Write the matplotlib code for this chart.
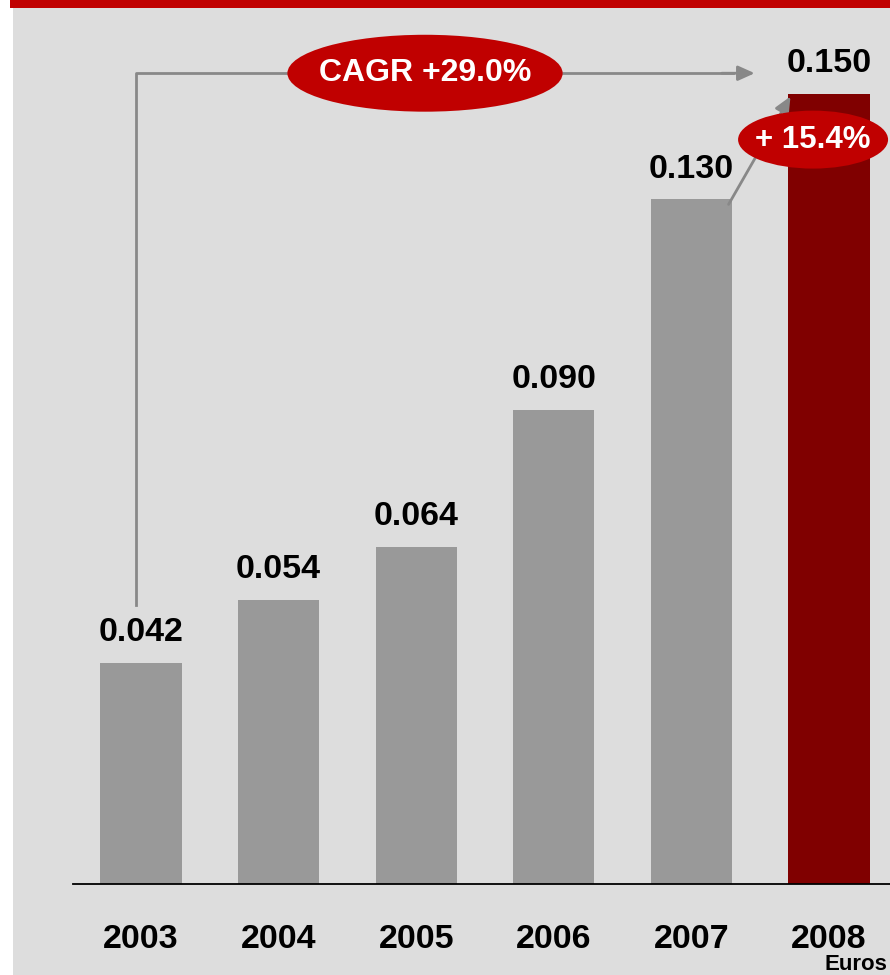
import matplotlib.pyplot as plt
import matplotlib.patches as patches

plt.rcParams['font.family'] = ['Liberation Sans', 'DejaVu Sans']

# data
years = ['2003', '2004', '2005', '2006', '2007', '2008']
values = [0.042, 0.054, 0.064, 0.090, 0.130, 0.150]
value_labels = ['0.042', '0.054', '0.064', '0.090', '0.130', '0.150']
bar_colors = ['#999999'] * 5 + ['#800000']
cagr_text = 'CAGR +29.0%'
growth_text = '+ 15.4%'

fig = plt.figure(figsize=(8.9, 9.75), dpi=100)
fig.patch.set_facecolor('white')

# grey panel + red band at top
fig.patches.append(patches.Rectangle((13 / 890, 0), 1, 1 - 8 / 975, transform=fig.transFigure,
                                     facecolor='#DDDDDD', edgecolor='none', zorder=-2))
fig.patches.append(patches.Rectangle((10 / 890, 1 - 8 / 975), 1, 8 / 975, transform=fig.transFigure,
                                     facecolor='#C00000', edgecolor='none', zorder=-2))

ax = fig.add_axes([73 / 890, 1 - 884 / 975, 1 - 73 / 890, 884 / 975])
ax.set_facecolor('none')
x = list(range(len(years)))
ax.bar(x, values, width=0.59, color=bar_colors, zorder=2)
ax.set_xlim(-0.494, 5.443)
ax.set_ylim(0, 0.1678)

for i, v in enumerate(values):
    ax.text(i, v + 0.0057, value_labels[i], ha='center', va='center',
            fontsize=24.5, fontweight='bold', color='black', zorder=5)

for s in ['top', 'right', 'left']:
    ax.spines[s].set_visible(False)
ax.spines['bottom'].set_color('black')
ax.spines['bottom'].set_linewidth(1.3)
ax.set_yticks([])
ax.set_xticks(x)
ax.set_xticklabels(years, fontsize=24.5, fontweight='bold')
ax.tick_params(axis='x', length=0, pad=29)

# CAGR arrow: from 2003 up and across to 2008
y_top = values[-1] + 0.0039
ax.plot([-0.036, -0.036, 4.3], [values[0] + 0.011, y_top, y_top],
        color='#888888', lw=2, zorder=3, clip_on=False)
ax.annotate('', xy=(4.48, y_top), xytext=(4.2, y_top),
            arrowprops=dict(arrowstyle='-|>,head_length=1.0,head_width=0.45',
                            color='#888888', lw=2), zorder=3)
ax.add_patch(patches.Ellipse((2.064, y_top), 2.0, 0.0146, facecolor='#C00000',
                             edgecolor='none', zorder=4, clip_on=False))
ax.text(2.064, y_top, cagr_text, ha='center', va='center', color='white',
        fontsize=23, fontweight='bold', zorder=5)

# 2007 -> 2008 growth arrow
ax.annotate('', xy=(4.72, 0.1495), xytext=(4.27, values[4] - 0.001),
            arrowprops=dict(arrowstyle='-|>,head_length=1.0,head_width=0.45',
                            color='#888888', lw=2, shrinkA=0, shrinkB=0), zorder=3)
ax.add_patch(patches.Ellipse((4.884, 0.1413), 1.09, 0.0110, facecolor='#C00000',
                             edgecolor='none', zorder=4, clip_on=False))
ax.text(4.884, 0.1413, growth_text, ha='center', va='center', color='white',
        fontsize=22.5, fontweight='bold', zorder=5)

fig.text(824 / 890, 1 - 964 / 975, 'Euros', ha='left', va='center',
         fontsize=16, fontweight='bold')

fig.savefig('out.png', dpi=100)
